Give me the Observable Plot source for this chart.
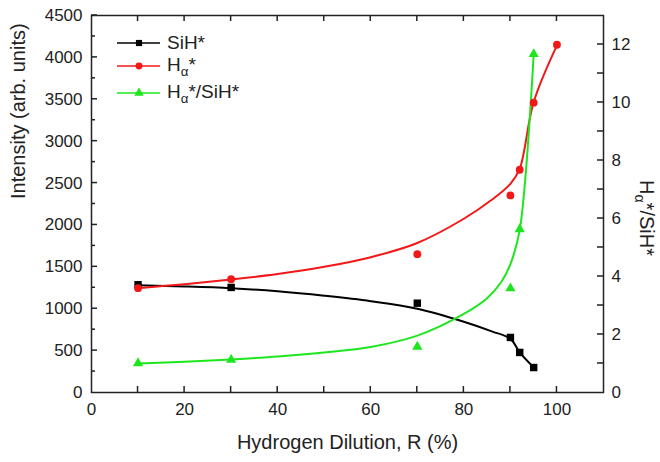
<!DOCTYPE html>
<html><head><meta charset="utf-8">
<script src="https://cdn.jsdelivr.net/npm/d3@7"></script>
<script src="https://cdn.jsdelivr.net/npm/@observablehq/plot@0.6"></script>
<style>
body{margin:0;background:#fff;font-family:"Liberation Sans",Arial,Helvetica,sans-serif;color:#222;}
#wrap{position:relative;width:660px;height:462px;}
.row{position:absolute;left:116px;height:22px;display:flex;align-items:center;font-size:19px;white-space:nowrap;}
.row svg{margin-right:5px;}
.rlab{position:absolute;left:645px;top:218px;transform:translate(-50%,-50%) rotate(90deg);font-size:20px;white-space:nowrap;}
sub{font-size:70%;}
</style></head><body><div id="wrap"></div>
<script>
// measured data points
const rSiH = [10, 30, 70, 90, 92, 95];
const siH = [1286, 1254, 1066, 657, 478, 298];
const rHa = [10, 30, 70, 90, 92, 95, 100];
const hAlpha = [1245, 1353, 1651, 2352, 2659, 3459, 4151];
const rRatio = [10, 30, 70, 90, 92, 95];
const ratio = [1.01, 1.13, 1.58, 3.59, 5.63, 11.67];
// fitted curves as drawn in the figure
const fitSiHx = [10, 20, 30, 40, 50, 60, 70, 80, 86, 90, 92, 95];
const fitSiHy = [1280, 1266, 1245, 1208, 1155, 1090, 1000, 845, 730, 640, 480, 300];
const fitHax = [10, 20, 30, 40, 50, 60, 70, 80, 86, 90, 92, 95, 100];
const fitHay = [1245, 1293, 1349, 1415, 1500, 1615, 1785, 2074, 2300, 2490, 2671, 3466, 4143];
const fitRx = [10, 20, 30, 40, 50, 60, 70, 80, 85, 88, 90, 92, 95];
const fitRy = [1.0, 1.06, 1.14, 1.24, 1.38, 1.57, 1.96, 2.71, 3.25, 3.8, 4.43, 5.6, 11.67];
// axes
const xLabels = [0, 20, 40, 60, 80, 100];
const xTickMarks = [10, 20, 30, 40, 50, 60, 70, 80, 90, 100];
const yLabels = [0, 500, 1000, 1500, 2000, 2500, 3000, 3500, 4000, 4500];
const yMinor = [250, 750, 1250, 1750, 2250, 2750, 3250, 3750, 4250];
const rLabels = [0, 2, 4, 6, 8, 10, 12];
const rTickMarks = [1, 2, 3, 4, 5, 6, 7, 8, 9, 10, 11, 12];
const xMax = 110, yMax = 4500, rMax = 13;
const K = yMax / rMax; // right-axis scale factor

const W = 660, H = 462, ML = 91, MR = 57, MT = 15, MB = 70;
const PW = W - ML - MR, PH = H - MT - MB;
const RED = "#f21818", GREEN = "#1ee61e", INK = "#222";

const chart = Plot.plot({
  width: W, height: H,
  marginLeft: ML, marginRight: MR, marginTop: MT, marginBottom: MB,
  style: {fontFamily: '"Liberation Sans", Arial, Helvetica, sans-serif', fontSize: "17px", color: INK},
  x: {domain: [0, xMax]},
  y: {domain: [0, yMax]},
  marks: [
    Plot.axisX(xLabels, {tickSize: 0, tickPadding: 10, fontSize: 17, label: null}),
    Plot.axisY(yLabels, {tickSize: 0, tickPadding: 9, fontSize: 17, label: null, tickFormat: d => String(d)}),
    Plot.axisY(rLabels.map(r => r * K), {anchor: "right", tickSize: 0, tickPadding: 8, fontSize: 17, label: null, tickFormat: d => String(Math.round(d / K))}),
    Plot.text(["Hydrogen Dilution, R (%)"], {frameAnchor: "bottom", dy: 56, text: d => d, fontSize: 20, fill: INK}),
    Plot.text(["Intensity (arb. units)"], {frameAnchor: "left", dx: -73, dy: -5, rotate: -90, text: d => d, fontSize: 20, fill: INK}),
    Plot.line(fitSiHy, {x: fitSiHx, y: fitSiHy, curve: "catmull-rom", stroke: "black", strokeWidth: 2}),
    Plot.line(fitHay, {x: fitHax, y: fitHay, curve: "catmull-rom", stroke: RED, strokeWidth: 2}),
    Plot.line(fitRy, {x: fitRx, y: fitRy.map(v => v * K), curve: "catmull-rom", stroke: GREEN, strokeWidth: 2}),
    Plot.dot(siH, {x: rSiH, y: siH, symbol: "square", r: 4.2, fill: "black"}),
    Plot.dot(hAlpha, {x: rHa, y: hAlpha, symbol: "circle", r: 3.9, fill: RED}),
    Plot.dot(ratio, {x: rRatio, y: ratio.map(v => v * K), symbol: "triangle", r: 3.8, fill: GREEN}),
    Plot.frame({stroke: INK, strokeWidth: 1.5})
  ]
});
const wrap = document.getElementById("wrap");
wrap.appendChild(chart);

// inward ticks, positioned with the chart's own scales
try {
  const sx = chart.scale("x"), sy = chart.scale("y");
  const g = d3.select(chart).append("g").attr("stroke", INK).attr("stroke-width", 1.5);
  const x0 = sx.apply(0), x1 = sx.apply(xMax), y0 = sy.apply(0), y1 = sy.apply(yMax);
  for (const v of xTickMarks) {
    const px = sx.apply(v);
    g.append("line").attr("x1", px).attr("x2", px).attr("y1", y0).attr("y2", y0 - 6);
    g.append("line").attr("x1", px).attr("x2", px).attr("y1", y1).attr("y2", y1 + 6);
  }
  for (const v of yLabels.slice(1)) {
    const py = sy.apply(v);
    g.append("line").attr("x1", x0).attr("x2", x0 + 6).attr("y1", py).attr("y2", py);
  }
  for (const v of yMinor) {
    const py = sy.apply(v);
    g.append("line").attr("x1", x0).attr("x2", x0 + 4).attr("y1", py).attr("y2", py);
  }
  for (const v of rTickMarks) {
    const py = sy.apply(v * K);
    g.append("line").attr("x1", x1).attr("x2", x1 - 6).attr("y1", py).attr("y2", py);
  }
} catch (e) {}

// legend
const legend = [
  {label: "SiH*", color: "black", sym: "square", top: 32},
  {label: "H<sub>α</sub>*", color: RED, sym: "circle", top: 55},
  {label: "H<sub>α</sub>*/SiH*", color: GREEN, sym: "triangle", top: 82}
];
for (const it of legend) {
  const row = document.createElement("div");
  row.className = "row";
  row.style.top = it.top + "px";
  const sw = d3.create("svg").attr("width", 46).attr("height", 22);
  sw.append("line").attr("x1", 1).attr("x2", 44).attr("y1", 11).attr("y2", 11).attr("stroke", it.color).attr("stroke-width", 1.6);
  const symType = it.sym === "square" ? d3.symbolSquare : it.sym === "circle" ? d3.symbolCircle : d3.symbolTriangle;
  sw.append("path").attr("d", d3.symbol(symType, 38)()).attr("transform", "translate(23,11)").attr("fill", it.color);
  row.appendChild(sw.node());
  const t = document.createElement("span");
  t.innerHTML = it.label;
  row.appendChild(t);
  wrap.appendChild(row);
}
// right axis title
const rl = document.createElement("div");
rl.className = "rlab";
rl.innerHTML = "H<sub>α</sub>*/SiH*";
wrap.appendChild(rl);
</script></body></html>
